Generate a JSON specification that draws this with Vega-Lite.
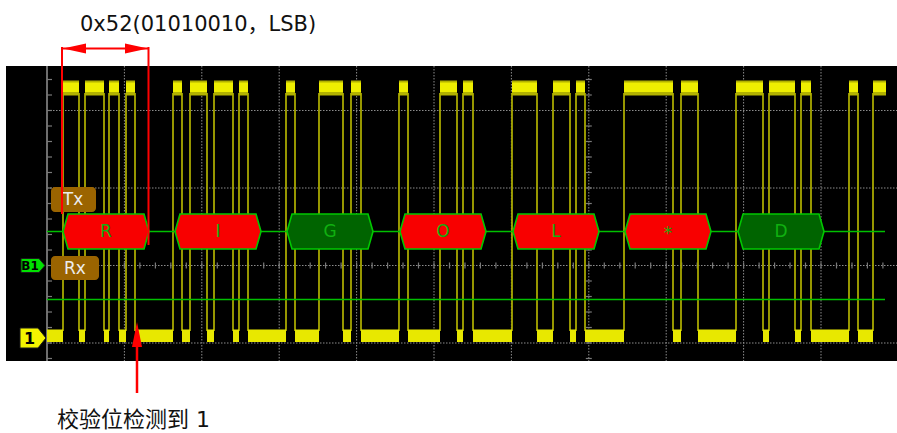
{
  "$schema": "https://vega.github.io/schema/vega-lite/v6.json",
  "width": 897,
  "height": 433,
  "autosize": {"type": "none"},
  "padding": 0,
  "background": "white",
  "config": {"view": {"stroke": null}},
  "datasets": {
    "gridV": [{"t":124.4},{"t":201.8},{"t":279.2},{"t":356.6},{"t":434},{"t":511.4},{"t":588.8},{"t":666.2},{"t":743.6},{"t":821}],
    "gridH": [{"v":110.5},{"v":188},{"v":265.5},{"v":343}],
    "ticksV": [{"v":79.5},{"v":95},{"v":110.5},{"v":126},{"v":141.5},{"v":157},{"v":172.5},{"v":188},{"v":203.5},{"v":219},{"v":234.5},{"v":250},{"v":265.5},{"v":281},{"v":296.5},{"v":312},{"v":327.5},{"v":343},{"v":358.5}],
    "ticksH": [{"t":62.5},{"t":78},{"t":93.4},{"t":108.9},{"t":124.4},{"t":139.9},{"t":155.4},{"t":170.8},{"t":186.3},{"t":201.8},{"t":217.3},{"t":232.8},{"t":248.2},{"t":263.7},{"t":279.2},{"t":294.7},{"t":310.2},{"t":325.6},{"t":341.1},{"t":356.6},{"t":372.1},{"t":387.6},{"t":403},{"t":418.5},{"t":434},{"t":449.5},{"t":465},{"t":480.4},{"t":495.9},{"t":511.4},{"t":526.9},{"t":542.4},{"t":557.8},{"t":573.3},{"t":588.8},{"t":604.3},{"t":619.8},{"t":635.2},{"t":650.7},{"t":666.2},{"t":681.7},{"t":697.2},{"t":712.6},{"t":728.1},{"t":743.6},{"t":759.1},{"t":774.6},{"t":790},{"t":805.5},{"t":821},{"t":836.5},{"t":852},{"t":867.4},{"t":882.9}],
    "edges": [{"t":63},{"t":79},{"t":85},{"t":104},{"t":109},{"t":119},{"t":126},{"t":135},{"t":173},{"t":182},{"t":190},{"t":207},{"t":214},{"t":233},{"t":239},{"t":248},{"t":286},{"t":295},{"t":319},{"t":343},{"t":351},{"t":361},{"t":399},{"t":408},{"t":440},{"t":457},{"t":463},{"t":473},{"t":512},{"t":537},{"t":553},{"t":570},{"t":576},{"t":585},{"t":624},{"t":673},{"t":681},{"t":698},{"t":736},{"t":763},{"t":769},{"t":795},{"t":801},{"t":811},{"t":849},{"t":858},{"t":873}],
    "hi": [{"a":63,"b":79},{"a":85,"b":104},{"a":109,"b":119},{"a":126,"b":135},{"a":173,"b":182},{"a":190,"b":207},{"a":214,"b":233},{"a":239,"b":248},{"a":286,"b":295},{"a":319,"b":343},{"a":351,"b":361},{"a":399,"b":408},{"a":440,"b":457},{"a":463,"b":473},{"a":512,"b":537},{"a":553,"b":570},{"a":576,"b":585},{"a":624,"b":673},{"a":681,"b":698},{"a":736,"b":763},{"a":769,"b":795},{"a":801,"b":811},{"a":849,"b":858},{"a":873,"b":886}],
    "lo": [{"a":47,"b":63},{"a":79,"b":85},{"a":104,"b":109},{"a":119,"b":126},{"a":135,"b":173},{"a":182,"b":190},{"a":207,"b":214},{"a":233,"b":239},{"a":248,"b":286},{"a":295,"b":319},{"a":343,"b":351},{"a":361,"b":399},{"a":408,"b":440},{"a":457,"b":463},{"a":473,"b":512},{"a":537,"b":553},{"a":570,"b":576},{"a":585,"b":624},{"a":673,"b":681},{"a":698,"b":736},{"a":763,"b":769},{"a":795,"b":801},{"a":811,"b":849},{"a":858,"b":873}],
    "hex": [
      {"id":"R","kind":"red","t":63,"top":231.5,"bot":231.5},{"id":"R","kind":"red","t":68,"top":214,"bot":249},{"id":"R","kind":"red","t":144,"top":214,"bot":249},{"id":"R","kind":"red","t":149,"top":231.5,"bot":231.5},
      {"id":"I","kind":"red","t":175,"top":231.5,"bot":231.5},{"id":"I","kind":"red","t":180,"top":214,"bot":249},{"id":"I","kind":"red","t":256,"top":214,"bot":249},{"id":"I","kind":"red","t":261,"top":231.5,"bot":231.5},
      {"id":"G","kind":"green","t":287,"top":231.5,"bot":231.5},{"id":"G","kind":"green","t":292,"top":214,"bot":249},{"id":"G","kind":"green","t":368,"top":214,"bot":249},{"id":"G","kind":"green","t":373,"top":231.5,"bot":231.5},
      {"id":"O","kind":"red","t":400,"top":231.5,"bot":231.5},{"id":"O","kind":"red","t":405,"top":214,"bot":249},{"id":"O","kind":"red","t":481,"top":214,"bot":249},{"id":"O","kind":"red","t":486,"top":231.5,"bot":231.5},
      {"id":"L","kind":"red","t":513,"top":231.5,"bot":231.5},{"id":"L","kind":"red","t":518,"top":214,"bot":249},{"id":"L","kind":"red","t":594,"top":214,"bot":249},{"id":"L","kind":"red","t":599,"top":231.5,"bot":231.5},
      {"id":"*","kind":"red","t":625,"top":231.5,"bot":231.5},{"id":"*","kind":"red","t":630,"top":214,"bot":249},{"id":"*","kind":"red","t":706,"top":214,"bot":249},{"id":"*","kind":"red","t":711,"top":231.5,"bot":231.5},
      {"id":"D","kind":"green","t":738,"top":231.5,"bot":231.5},{"id":"D","kind":"green","t":743,"top":214,"bot":249},{"id":"D","kind":"green","t":819,"top":214,"bot":249},{"id":"D","kind":"green","t":824,"top":231.5,"bot":231.5}
    ],
    "hexLabels": [{"label":"R","t":106,"v":232},{"label":"I","t":218,"v":232},{"label":"G","t":330,"v":232},{"label":"O","t":443,"v":232},{"label":"L","t":556,"v":232},{"label":"*","t":668,"v":234},{"label":"D","t":781,"v":232}],
    "boxes": [{"label":"Tx","a":51,"b":96,"v1":187,"v2":212,"tc":73,"vc":200},{"label":"Rx","a":51,"b":99,"v1":256,"v2":280,"tc":75,"vc":268.5}],
    "tagB1": [{"t":21,"top":258.5,"bot":272.5},{"t":39,"top":258.5,"bot":272.5},{"t":45,"top":265.5,"bot":265.5}],
    "tag1": [{"t":20,"top":328,"bot":348},{"t":38,"top":328,"bot":348},{"t":46,"top":338,"bot":338}],
    "tagLabels": [{"label":"B1","t":30,"v":266,"sz":12},{"label":"1","t":29.5,"v":338.5,"sz":16}]
  },
  "layer": [
    {
      "data": {"values": [{}]},
      "mark": {"type": "rect", "fill": "black"},
      "encoding": {
        "x": {"datum": 6, "type": "quantitative", "scale": {"domain": [0, 897], "nice": false, "zero": false}, "axis": null},
        "x2": {"datum": 897},
        "y": {"datum": 66, "type": "quantitative", "scale": {"domain": [0, 433], "nice": false, "zero": false, "reverse": true}, "axis": null},
        "y2": {"datum": 361}
      }
    },
    {
      "data": {"name": "gridV"},
      "mark": {"type": "rule", "color": "#8c8c8c", "strokeWidth": 1, "strokeDash": [1.5, 1.5]},
      "encoding": {
        "x": {"field": "t", "type": "quantitative", "scale": {"domain": [0, 897], "nice": false, "zero": false}, "axis": null},
        "y": {"datum": 66, "type": "quantitative", "scale": {"domain": [0, 433], "nice": false, "zero": false, "reverse": true}, "axis": null},
        "y2": {"datum": 361}
      }
    },
    {
      "data": {"name": "gridH"},
      "mark": {"type": "rule", "color": "#8c8c8c", "strokeWidth": 1, "strokeDash": [1.5, 1.5]},
      "encoding": {
        "x": {"datum": 47, "type": "quantitative", "scale": {"domain": [0, 897], "nice": false, "zero": false}, "axis": null},
        "x2": {"datum": 897},
        "y": {"field": "v", "type": "quantitative", "scale": {"domain": [0, 433], "nice": false, "zero": false, "reverse": true}, "axis": null}
      }
    },
    {
      "data": {"values": [{}]},
      "mark": {"type": "rule", "color": "#6e6e6e", "strokeWidth": 2},
      "encoding": {
        "x": {"datum": 47, "type": "quantitative", "scale": {"domain": [0, 897], "nice": false, "zero": false}, "axis": null},
        "y": {"datum": 66, "type": "quantitative", "scale": {"domain": [0, 433], "nice": false, "zero": false, "reverse": true}, "axis": null},
        "y2": {"datum": 361}
      }
    },
    {
      "data": {"name": "ticksV"},
      "mark": {"type": "rule", "color": "#7a7a7a", "strokeWidth": 1.2},
      "encoding": {
        "x": {"datum": 47, "type": "quantitative", "scale": {"domain": [0, 897], "nice": false, "zero": false}, "axis": null},
        "x2": {"datum": 52},
        "y": {"field": "v", "type": "quantitative", "scale": {"domain": [0, 433], "nice": false, "zero": false, "reverse": true}, "axis": null}
      }
    },
    {
      "data": {"name": "ticksV"},
      "mark": {"type": "rule", "color": "#7a7a7a", "strokeWidth": 1.2},
      "encoding": {
        "x": {"datum": 585.8, "type": "quantitative", "scale": {"domain": [0, 897], "nice": false, "zero": false}, "axis": null},
        "x2": {"datum": 591.8},
        "y": {"field": "v", "type": "quantitative", "scale": {"domain": [0, 433], "nice": false, "zero": false, "reverse": true}, "axis": null}
      }
    },
    {
      "data": {"name": "ticksH"},
      "mark": {"type": "rule", "color": "#7a7a7a", "strokeWidth": 1.2},
      "encoding": {
        "x": {"field": "t", "type": "quantitative", "scale": {"domain": [0, 897], "nice": false, "zero": false}, "axis": null},
        "y": {"datum": 262.5, "type": "quantitative", "scale": {"domain": [0, 433], "nice": false, "zero": false, "reverse": true}, "axis": null},
        "y2": {"datum": 268.5}
      }
    },
    {
      "data": {"name": "edges"},
      "mark": {"type": "rule", "color": "#a8a800", "strokeWidth": 1.8},
      "encoding": {
        "x": {"field": "t", "type": "quantitative", "scale": {"domain": [0, 897], "nice": false, "zero": false}, "axis": null},
        "y": {"datum": 93, "type": "quantitative", "scale": {"domain": [0, 433], "nice": false, "zero": false, "reverse": true}, "axis": null},
        "y2": {"datum": 331}
      }
    },
    {
      "data": {"name": "hi"},
      "mark": {"type": "rect", "fill": "#b2b200"},
      "encoding": {
        "x": {"field": "a", "type": "quantitative", "scale": {"domain": [0, 897], "nice": false, "zero": false}, "axis": null},
        "x2": {"field": "b"},
        "y": {"datum": 80.5, "type": "quantitative", "scale": {"domain": [0, 433], "nice": false, "zero": false, "reverse": true}, "axis": null},
        "y2": {"datum": 95.5}
      }
    },
    {
      "data": {"name": "hi"},
      "mark": {"type": "rect", "fill": "#eeee00"},
      "encoding": {
        "x": {"field": "a", "type": "quantitative", "scale": {"domain": [0, 897], "nice": false, "zero": false}, "axis": null},
        "x2": {"field": "b"},
        "y": {"datum": 82.5, "type": "quantitative", "scale": {"domain": [0, 433], "nice": false, "zero": false, "reverse": true}, "axis": null},
        "y2": {"datum": 92}
      }
    },
    {
      "data": {"name": "lo"},
      "mark": {"type": "rect", "fill": "#e8e800"},
      "encoding": {
        "x": {"field": "a", "type": "quantitative", "scale": {"domain": [0, 897], "nice": false, "zero": false}, "axis": null},
        "x2": {"field": "b"},
        "y": {"datum": 329.5, "type": "quantitative", "scale": {"domain": [0, 433], "nice": false, "zero": false, "reverse": true}, "axis": null},
        "y2": {"datum": 342}
      }
    },
    {
      "data": {"values": [{"v": 231.5}, {"v": 299.5}]},
      "mark": {"type": "rule", "color": "#00c000", "strokeWidth": 1.6},
      "encoding": {
        "x": {"datum": 47, "type": "quantitative", "scale": {"domain": [0, 897], "nice": false, "zero": false}, "axis": null},
        "x2": {"datum": 885},
        "y": {"field": "v", "type": "quantitative", "scale": {"domain": [0, 433], "nice": false, "zero": false, "reverse": true}, "axis": null}
      }
    },
    {
      "data": {"name": "hex"},
      "mark": {"type": "area", "orient": "vertical", "stroke": "#00c800", "strokeWidth": 1.6, "opacity": 1, "fillOpacity": 1},
      "encoding": {
        "x": {"field": "t", "type": "quantitative", "scale": {"domain": [0, 897], "nice": false, "zero": false}, "axis": null},
        "y": {"field": "top", "type": "quantitative", "scale": {"domain": [0, 433], "nice": false, "zero": false, "reverse": true}, "axis": null},
        "y2": {"field": "bot"},
        "detail": {"field": "id"},
        "fill": {"field": "kind", "type": "nominal", "scale": {"domain": ["red", "green"], "range": ["#f80000", "#006400"]}, "legend": null}
      }
    },
    {
      "data": {"name": "hexLabels"},
      "mark": {"type": "text", "font": "DejaVu Sans", "fontSize": 17, "color": "#10b010", "align": "center", "baseline": "middle"},
      "encoding": {
        "x": {"field": "t", "type": "quantitative", "scale": {"domain": [0, 897], "nice": false, "zero": false}, "axis": null},
        "y": {"field": "v", "type": "quantitative", "scale": {"domain": [0, 433], "nice": false, "zero": false, "reverse": true}, "axis": null},
        "text": {"field": "label"}
      }
    },
    {
      "data": {"name": "boxes"},
      "mark": {"type": "rect", "fill": "#9b6400", "cornerRadius": 4},
      "encoding": {
        "x": {"field": "a", "type": "quantitative", "scale": {"domain": [0, 897], "nice": false, "zero": false}, "axis": null},
        "x2": {"field": "b"},
        "y": {"field": "v1", "type": "quantitative", "scale": {"domain": [0, 433], "nice": false, "zero": false, "reverse": true}, "axis": null},
        "y2": {"field": "v2"}
      }
    },
    {
      "data": {"name": "boxes"},
      "mark": {"type": "text", "font": "DejaVu Sans", "fontSize": 17, "color": "#ececec", "align": "center", "baseline": "middle"},
      "encoding": {
        "x": {"field": "tc", "type": "quantitative", "scale": {"domain": [0, 897], "nice": false, "zero": false}, "axis": null},
        "y": {"field": "vc", "type": "quantitative", "scale": {"domain": [0, 433], "nice": false, "zero": false, "reverse": true}, "axis": null},
        "text": {"field": "label"}
      }
    },
    {
      "data": {"name": "tagB1"},
      "mark": {"type": "area", "orient": "vertical", "fill": "#00e000", "stroke": "#1a1a1a", "strokeWidth": 1},
      "encoding": {
        "x": {"field": "t", "type": "quantitative", "scale": {"domain": [0, 897], "nice": false, "zero": false}, "axis": null},
        "y": {"field": "top", "type": "quantitative", "scale": {"domain": [0, 433], "nice": false, "zero": false, "reverse": true}, "axis": null},
        "y2": {"field": "bot"}
      }
    },
    {
      "data": {"name": "tag1"},
      "mark": {"type": "area", "orient": "vertical", "fill": "#f4f400", "stroke": "#1a1a1a", "strokeWidth": 1},
      "encoding": {
        "x": {"field": "t", "type": "quantitative", "scale": {"domain": [0, 897], "nice": false, "zero": false}, "axis": null},
        "y": {"field": "top", "type": "quantitative", "scale": {"domain": [0, 433], "nice": false, "zero": false, "reverse": true}, "axis": null},
        "y2": {"field": "bot"}
      }
    },
    {
      "data": {"name": "tagLabels"},
      "mark": {"type": "text", "font": "DejaVu Sans", "fontWeight": "bold", "color": "black", "align": "center", "baseline": "middle"},
      "encoding": {
        "x": {"field": "t", "type": "quantitative", "scale": {"domain": [0, 897], "nice": false, "zero": false}, "axis": null},
        "y": {"field": "v", "type": "quantitative", "scale": {"domain": [0, 433], "nice": false, "zero": false, "reverse": true}, "axis": null},
        "size": {"field": "sz", "type": "quantitative", "scale": null, "legend": null},
        "text": {"field": "label"}
      }
    },
    {
      "data": {"values": [{"t": 62, "v1": 47, "v2": 214}, {"t": 148.5, "v1": 47, "v2": 245}]},
      "mark": {"type": "rule", "color": "#ff0000", "strokeWidth": 2},
      "encoding": {
        "x": {"field": "t", "type": "quantitative", "scale": {"domain": [0, 897], "nice": false, "zero": false}, "axis": null},
        "y": {"field": "v1", "type": "quantitative", "scale": {"domain": [0, 433], "nice": false, "zero": false, "reverse": true}, "axis": null},
        "y2": {"field": "v2"}
      }
    },
    {
      "data": {"values": [{"t1": 63, "t2": 148, "v": 48.5}]},
      "mark": {"type": "rule", "color": "#ff0000", "strokeWidth": 2},
      "encoding": {
        "x": {"field": "t1", "type": "quantitative", "scale": {"domain": [0, 897], "nice": false, "zero": false}, "axis": null},
        "x2": {"field": "t2"},
        "y": {"field": "v", "type": "quantitative", "scale": {"domain": [0, 433], "nice": false, "zero": false, "reverse": true}, "axis": null}
      }
    },
    {
      "data": {"values": [
        {"id": "l", "t": 63, "top": 48.5, "bot": 48.5}, {"id": "l", "t": 86, "top": 43.5, "bot": 53.5},
        {"id": "r", "t": 125, "top": 43.5, "bot": 53.5}, {"id": "r", "t": 148, "top": 48.5, "bot": 48.5}
      ]},
      "mark": {"type": "area", "orient": "vertical", "color": "#ff0000"},
      "encoding": {
        "x": {"field": "t", "type": "quantitative", "scale": {"domain": [0, 897], "nice": false, "zero": false}, "axis": null},
        "y": {"field": "top", "type": "quantitative", "scale": {"domain": [0, 433], "nice": false, "zero": false, "reverse": true}, "axis": null},
        "y2": {"field": "bot"},
        "detail": {"field": "id"}
      }
    },
    {
      "data": {"values": [{"t": 137, "v1": 345, "v2": 393}]},
      "mark": {"type": "rule", "color": "#ff0000", "strokeWidth": 2.5},
      "encoding": {
        "x": {"field": "t", "type": "quantitative", "scale": {"domain": [0, 897], "nice": false, "zero": false}, "axis": null},
        "y": {"field": "v1", "type": "quantitative", "scale": {"domain": [0, 433], "nice": false, "zero": false, "reverse": true}, "axis": null},
        "y2": {"field": "v2"}
      }
    },
    {
      "data": {"values": [{"v": 322, "t1": 137, "t2": 137}, {"v": 347, "t1": 132, "t2": 142}]},
      "mark": {"type": "area", "orient": "horizontal", "color": "#ff0000"},
      "encoding": {
        "y": {"field": "v", "type": "quantitative", "scale": {"domain": [0, 433], "nice": false, "zero": false, "reverse": true}, "axis": null},
        "x": {"field": "t1", "type": "quantitative", "scale": {"domain": [0, 897], "nice": false, "zero": false}, "axis": null},
        "x2": {"field": "t2"}
      }
    },
    {
      "data": {"values": [{"label": "0x52(01010010，LSB)", "t": 80, "v": 31}]},
      "mark": {"type": "text", "font": "DejaVu Sans, Noto Sans CJK SC", "fontSize": 21, "color": "#111111", "align": "left", "baseline": "alphabetic"},
      "encoding": {
        "x": {"field": "t", "type": "quantitative", "scale": {"domain": [0, 897], "nice": false, "zero": false}, "axis": null},
        "y": {"field": "v", "type": "quantitative", "scale": {"domain": [0, 433], "nice": false, "zero": false, "reverse": true}, "axis": null},
        "text": {"field": "label"}
      }
    },
    {
      "data": {"values": [{"label": "校验位检测到 1", "t": 57, "v": 420}]},
      "mark": {"type": "text", "font": "DejaVu Sans, Noto Sans CJK SC", "fontSize": 22, "color": "#111111", "align": "left", "baseline": "middle"},
      "encoding": {
        "x": {"field": "t", "type": "quantitative", "scale": {"domain": [0, 897], "nice": false, "zero": false}, "axis": null},
        "y": {"field": "v", "type": "quantitative", "scale": {"domain": [0, 433], "nice": false, "zero": false, "reverse": true}, "axis": null},
        "text": {"field": "label"}
      }
    }
  ]
}
